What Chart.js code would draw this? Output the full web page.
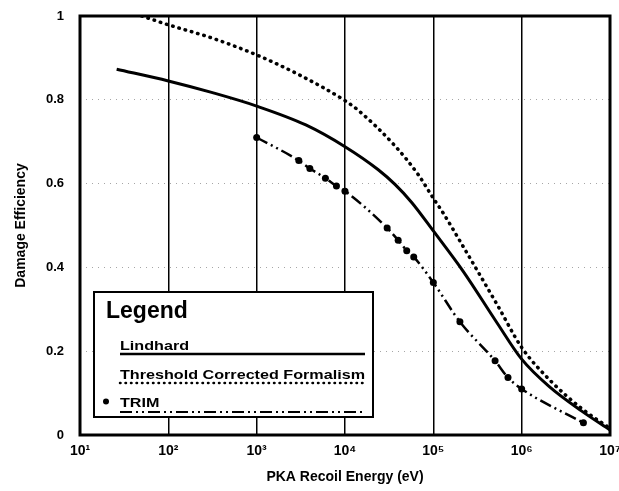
<!DOCTYPE html>
<html><head><meta charset="utf-8">
<script src="https://cdn.jsdelivr.net/npm/chart.js@4.4.0/dist/chart.umd.min.js"></script>
<style>html,body{margin:0;padding:0;background:#fff}canvas{display:block}</style>
</head><body>
<canvas id="c" width="619" height="491" style="width:619px;height:491px"></canvas>
<script>
// ---- data ----
const lindhardEnergy = [26, 100, 316, 1000, 3600, 10000, 23800, 36800, 56900, 100000, 218800, 525000, 1000000, 2040000, 4790000, 10000000];
const lindhardEff    = [0.873, 0.845, 0.817, 0.785, 0.740, 0.688, 0.633, 0.598, 0.555, 0.487, 0.390, 0.268, 0.181, 0.116, 0.057, 0.012];

const thresholdEnergy = [50, 100, 316, 1000, 3000, 10000, 14100, 36800, 67600, 100000, 129000, 218800, 525000, 1000000, 2040000, 4790000, 10000000];
const thresholdEff    = [1.0, 0.979, 0.947, 0.907, 0.860, 0.798, 0.775, 0.690, 0.621, 0.565, 0.530, 0.449, 0.312, 0.209, 0.133, 0.063, 0.016];

const trimEnergy = [1000, 3000, 4000, 6000, 8000, 10000, 30000, 40000, 50000, 60000, 100000, 200000, 500000, 700000, 1000000, 5000000];
const trimEff    = [0.710, 0.655, 0.636, 0.613, 0.594, 0.582, 0.494, 0.465, 0.440, 0.425, 0.364, 0.270, 0.177, 0.137, 0.110, 0.029];

const xTickValues = [10, 100, 1000, 10000, 100000, 1000000, 10000000];
const xTickLabels = ['10\u00B9', '10\u00B2', '10\u00B3', '10\u2074', '10\u2075', '10\u2076', '10\u2077'];
const yTickValues = [0, 0.2, 0.4, 0.6, 0.8, 1];
const yTickLabels = ['0', '0.2', '0.4', '0.6', '0.8', '1'];

const seriesNames = ['Lindhard', 'Threshold Corrected Formalism', 'TRIM'];
const xTitle = 'PKA Recoil Energy (eV)';
const yTitle = 'Damage Efficiency';
const legendTitle = 'Legend';

const pts = (xs, ys) => xs.map((x, i) => ({x: x, y: ys[i]}));
const FONT = '"Liberation Sans", Arial, sans-serif';

const framePlugin = {
  id: 'frame',
  afterDatasetsDraw(chart) {
    const {ctx, chartArea: a} = chart;
    ctx.save();
    ctx.strokeStyle = '#000';
    ctx.lineWidth = 3;
    ctx.strokeRect(a.left, a.top, a.right - a.left, a.bottom - a.top);
    ctx.restore();

    // legend box
    const bx = 94, by = 292, bw = 279, bh = 125;
    ctx.save();
    ctx.fillStyle = '#fff';
    ctx.fillRect(bx, by, bw, bh);
    ctx.strokeStyle = '#000';
    ctx.lineWidth = 2;
    ctx.strokeRect(bx, by, bw, bh);
    ctx.fillStyle = '#000';
    ctx.textBaseline = 'alphabetic';
    ctx.font = 'bold 23px ' + FONT;
    ctx.fillText(legendTitle, 106, 318);

    ctx.font = 'bold 13px ' + FONT;
    const target = 245;
    const w = ctx.measureText(seriesNames[1]).width;
    const sx = target / w;
    const drawTxt = (t, x, y) => {
      ctx.save(); ctx.translate(x, y); ctx.scale(sx, 1); ctx.fillText(t, 0, 0); ctx.restore();
    };
    const x0 = 120, x1 = 365;
    drawTxt(seriesNames[0], x0, 350);
    drawTxt(seriesNames[1], x0, 379);
    drawTxt(seriesNames[2], x0, 407);

    ctx.lineWidth = 2.5;
    ctx.setLineDash([]);
    ctx.beginPath(); ctx.moveTo(x0, 354); ctx.lineTo(x1, 354); ctx.stroke();
    ctx.lineCap = 'round';
    ctx.lineWidth = 2.5;
    ctx.setLineDash([0.5, 5]);
    ctx.beginPath(); ctx.moveTo(x0, 383); ctx.lineTo(x1, 383); ctx.stroke();
    ctx.lineCap = 'butt';
    ctx.lineWidth = 2;
    ctx.setLineDash([12, 4, 2, 4, 2, 4]);
    ctx.beginPath(); ctx.moveTo(x0, 412); ctx.lineTo(x1, 412); ctx.stroke();
    ctx.setLineDash([]);
    ctx.beginPath(); ctx.arc(106, 401.5, 3, 0, Math.PI * 2); ctx.fill();
    ctx.restore();
  }
};

new Chart(document.getElementById('c'), {
  type: 'line',
  data: {
    datasets: [
      { label: seriesNames[0], data: pts(lindhardEnergy, lindhardEff), borderColor: '#000', borderWidth: 3,
        pointRadius: 0, cubicInterpolationMode: 'monotone', fill: false },
      { label: seriesNames[1], data: pts(thresholdEnergy, thresholdEff), borderColor: '#000', borderWidth: 3.5,
        borderDash: [0.5, 6], borderCapStyle: 'round', pointRadius: 0, cubicInterpolationMode: 'monotone', fill: false },
      { label: seriesNames[2], data: pts(trimEnergy, trimEff), borderColor: '#000', borderWidth: 2.5,
        borderDash: [12, 4, 2, 4, 2, 4], pointRadius: 3.5, pointBackgroundColor: '#000', pointBorderWidth: 0,
        cubicInterpolationMode: 'monotone', fill: false }
    ]
  },
  options: {
    responsive: false,
    animation: false,
    devicePixelRatio: 1,
    layout: { padding: { left: 0, right: 9, top: 16, bottom: 0 } },
    plugins: { legend: { display: false }, tooltip: { enabled: false } },
    scales: {
      x: {
        type: 'logarithmic', min: 10, max: 10000000,
        afterBuildTicks: s => { s.ticks = xTickValues.map(v => ({ value: v })); },
        afterFit: s => { s.height = 56; s.paddingLeft = 0; s.paddingRight = 0; },
        ticks: {
          autoSkip: false, maxRotation: 0, padding: 8, color: '#000',
          font: { family: FONT, weight: 'bold', size: 14 },
          callback: (v) => { const i = xTickValues.indexOf(v); return i >= 0 ? xTickLabels[i] : ''; }
        },
        grid: { color: '#000', lineWidth: 1.5, drawTicks: false },
        border: { display: false },
        title: { display: true, text: xTitle, color: '#000', font: { family: FONT, weight: 'bold', size: 14 },
                 padding: { top: 0, bottom: 5 } }
      },
      y: {
        type: 'linear', min: 0, max: 1,
        afterBuildTicks: s => { s.ticks = yTickValues.map(v => ({ value: v })); },
        afterFit: s => { s.width = 80; s.paddingTop = 0; s.paddingBottom = 0; },
        ticks: {
          padding: 16, color: '#000', font: { family: FONT, weight: 'bold', size: 13 },
          callback: (v) => { const i = yTickValues.indexOf(v); return i >= 0 ? yTickLabels[i] : ''; }
        },
        grid: { color: 'rgba(0,0,0,0.35)', lineWidth: 1, drawTicks: false },
        border: { display: false, dash: [1, 5] },
        title: { display: true, text: yTitle, color: '#000', font: { family: FONT, weight: 'bold', size: 14 },
                 padding: { top: 13, bottom: 0 } }
      }
    }
  },
  plugins: [framePlugin]
});
</script>
</body></html>
